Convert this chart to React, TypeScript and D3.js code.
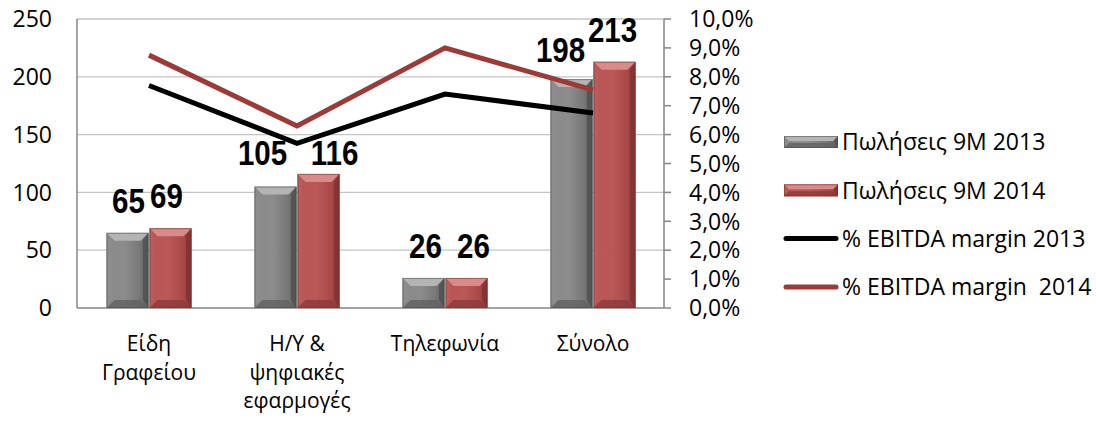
import React from "react";
import * as d3 from "d3";

const categories = [["Είδη", "Γραφείου"], ["Η/Υ &", "ψηφιακές", "εφαρμογές"], ["Τηλεφωνία"], ["Σύνολο"]];
const sales2013 = [65, 105, 26, 198];
const sales2014 = [69, 116, 26, 213];
const margin2013 = [0.077, 0.057, 0.074, 0.0675];
const margin2014 = [0.0875, 0.063, 0.09, 0.0755];
const leftTicks = [0, 50, 100, 150, 200, 250];
const rightTicks = [0, 0.01, 0.02, 0.03, 0.04, 0.05, 0.06, 0.07, 0.08, 0.09, 0.1];
const legendLabels = ["Πωλήσεις 9M 2013", "Πωλήσεις 9M 2014", "% EBITDA margin 2013", "% EBITDA margin  2014"];
// manual label nudges [dx, dy] for the two bar series
const labelNudge2013 = [[1, -20], [-13, -22], [2, -20], [-11, -17]];
const labelNudge2014 = [[-4, -20], [16, -9], [7, -20], [-2, -20]];

const W = 1096, H = 422;
const plotL = 77, plotR = 664, plotT = 19, plotB = 308;
const FONT = "'Open Sans', sans-serif";
const NUMFONT = "'Liberation Sans', Arial, sans-serif";

const palettes = {
  gray: { face: "#808080", top: "#b4b4b4", left: "#8e8e8e", right: "#505050", bottom: "#626262", edge: "#4a4a4a", id: "g" },
  red: { face: "#b24f4e", top: "#d98a89", left: "#bd5c5b", right: "#7e3231", bottom: "#8c3b3a", edge: "#732d2c", id: "r" },
};

function BevelBar({ x, y, w, h, p, b = 8 }: any) {
  const bb = Math.min(b, h / 2, w / 2);
  const pts = (a: number[][]) => a.map((q) => q.join(",")).join(" ");
  return (
    <g>
      <rect x={x} y={y} width={w} height={h} fill={`url(#face-${p.id})`} />
      <polygon points={pts([[x, y], [x + w, y], [x + w - bb, y + bb], [x + bb, y + bb]])} fill={p.top} />
      <polygon points={pts([[x, y], [x + bb * 0.6, y + bb], [x + bb * 0.6, y + h - bb], [x, y + h]])} fill={p.left} opacity={0.7} />
      <polygon points={pts([[x + w, y], [x + w, y + h], [x + w - bb * 0.7, y + h - bb], [x + w - bb * 0.7, y + bb]])} fill={p.right} opacity={0.8} />
      <polygon points={pts([[x, y + h], [x + w, y + h], [x + w - bb, y + h - bb], [x + bb, y + h - bb]])} fill={p.bottom} opacity={0.8} />
      <rect x={x + 0.5} y={y + 0.5} width={w - 1} height={h - 1} fill="none" stroke={p.edge} strokeWidth={1} strokeOpacity={0.5} />
    </g>
  );
}

export default function App() {
  const x = d3.scaleBand<number>().domain(d3.range(categories.length)).range([plotL - 2, plotR + 3]);
  const y = d3.scaleLinear().domain([0, 250]).range([plotB, plotT]);
  const y2 = d3.scaleLinear().domain([0, 0.1]).range([plotB, plotT]);
  const barW = 42, gap = 1;
  const cx = (i: number) => (x(i) as number) + x.bandwidth() / 2;
  const line = d3.line<number>().x((_, i) => cx(i)).y((d) => y2(d));
  const fmtPct = (v: number) => (v * 100).toFixed(1).replace(".", ",") + "%";

  return (
    <svg width={W} height={H} style={{ position: "absolute", left: 0, top: 0, background: "#fff" }}>
      <defs>
        <linearGradient id="face-g" x1="0" x2="1" y1="0" y2="0">
          <stop offset="0" stopColor="#8a8a8a" />
          <stop offset="0.45" stopColor="#8c8c8c" />
          <stop offset="0.8" stopColor="#777" />
          <stop offset="1" stopColor="#5c5c5c" />
        </linearGradient>
        <linearGradient id="face-r" x1="0" x2="1" y1="0" y2="0">
          <stop offset="0" stopColor="#b85655" />
          <stop offset="0.45" stopColor="#ba5857" />
          <stop offset="0.8" stopColor="#a84948" />
          <stop offset="1" stopColor="#8d3b3a" />
        </linearGradient>
      </defs>
      {/* gridlines */}
      {leftTicks.filter((t) => t > 0).map((t) => (
        <line key={t} x1={plotL} x2={plotR} y1={y(t)} y2={y(t)} stroke="#c4c4c4" strokeWidth={1.3} />
      ))}
      {/* left axis */}
      <line x1={plotL} x2={plotL} y1={plotT} y2={plotB} stroke="#868686" strokeWidth={1.5} />
      <line x1={plotL} x2={plotR} y1={plotB} y2={plotB} stroke="#868686" strokeWidth={1.5} />
      {leftTicks.map((t) => (
        <text key={t} x={52} y={y(t)} dy="0.36em" textAnchor="end" fontFamily={FONT} fontSize={23} fill="#000">{t}</text>
      ))}
      {/* right axis */}
      <line x1={plotR} x2={plotR} y1={plotT} y2={plotB} stroke="#868686" strokeWidth={1.5} />
      {rightTicks.map((t) => (
        <g key={t}>
          <line x1={plotR} x2={plotR + 7} y1={y2(t)} y2={y2(t)} stroke="#868686" strokeWidth={1.5} />
          <text x={689} y={y2(t)} dy="0.36em" fontFamily={FONT} fontSize={23} fill="#000">{fmtPct(t)}</text>
        </g>
      ))}
      {/* bars */}
      {sales2013.map((v, i) => (
        <BevelBar key={"a" + i} x={cx(i) - gap / 2 - barW} y={y(v)} w={barW} h={plotB - y(v)} p={palettes.gray} />
      ))}
      {sales2014.map((v, i) => (
        <BevelBar key={"b" + i} x={cx(i) + gap / 2} y={y(v)} w={barW} h={plotB - y(v)} p={palettes.red} />
      ))}
      {/* lines */}
      <path d={line(margin2013) as string} fill="none" stroke="#000" strokeWidth={5} strokeLinejoin="miter" />
      <path d={line(margin2014) as string} fill="none" stroke="#9d3a37" strokeWidth={5} strokeLinejoin="miter" />
      {/* data labels */}
      {sales2013.map((v, i) => (
        <text key={"la" + i} transform={`translate(${cx(i) - gap / 2 - barW / 2 + labelNudge2013[i][0]},${y(v) + labelNudge2013[i][1]}) scale(0.82,1)`} textAnchor="middle" fontFamily={NUMFONT} fontWeight="bold" fontSize={36} fill="#000">{v}</text>
      ))}
      {sales2014.map((v, i) => (
        <text key={"lb" + i} transform={`translate(${cx(i) + gap / 2 + barW / 2 + labelNudge2014[i][0]},${y(v) + labelNudge2014[i][1]}) scale(0.82,1)`} textAnchor="middle" fontFamily={NUMFONT} fontWeight="bold" fontSize={36} fill="#000">{v}</text>
      ))}
      {/* category labels */}
      {categories.map((lines, i) => (
        <text key={"c" + i} x={cx(i)} y={351} textAnchor="middle" fontFamily={FONT} fontSize={21} fill="#000">
          {lines.map((l, j) => (
            <tspan key={j} x={cx(i)} dy={j === 0 ? 0 : 28.7}>{l}</tspan>
          ))}
        </text>
      ))}
      {/* legend */}
      {legendLabels.map((lab, i) => {
        const ly = 142 + i * 48.3;
        return (
          <g key={"lg" + i}>
            {i < 2 ? (
              <BevelBar x={784} y={ly - 6} w={54} h={12} p={i === 0 ? palettes.gray : palettes.red} b={5} />
            ) : (
              <line x1={786} x2={836} y1={ly} y2={ly} stroke={i === 2 ? "#000" : "#9d3a37"} strokeWidth={5} strokeLinecap="round" />
            )}
            <text x={842} y={ly} dy="0.36em" fontFamily={FONT} fontSize={23} fill="#000" style={{ whiteSpace: "pre" }}>{lab}</text>
          </g>
        );
      })}
    </svg>
  );
}
